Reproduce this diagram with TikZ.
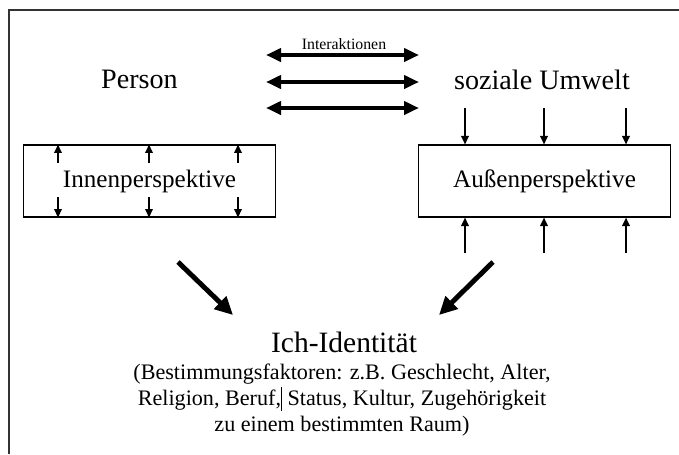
\documentclass[tikz,border=0pt]{standalone}
\usepackage{fontspec}
\setmainfont{Liberation Serif}
\usetikzlibrary{arrows.meta,positioning}

\tikzset{
	big/.style={font=\fontsize{16}{19}\selectfont, inner sep=0pt, anchor=base},
	persp/.style={draw, line width=0.6pt, minimum width=5.04cm, minimum height=1.44cm, font=\fontsize{14.3}{17}\selectfont},
	inter/.style={line width=2.3pt, {Triangle[length=3mm,width=2.6mm]}-{Triangle[length=3mm,width=2.6mm]}},
	heavy/.style={line width=2.8pt, -{Triangle[length=3.6mm,width=3.4mm]}},
	small/.style={line width=1.1pt, -{Triangle[length=1.7mm,width=1.5mm]}}
}

\begin{document}
\begin{tikzpicture}[x=0.02cm, y=-0.02cm]
	\useasboundingbox (0,0) rectangle (679,454);
	\draw [line width=0.6pt, black!80] (9,454) -- (9,10) -- (679,10);

	\node [big] (person) at (139.5, 88) {Person};
	\node [big] (umwelt) at (542, 89) {soziale Umwelt};
	\node [font=\fontsize{9}{11}\selectfont, inner sep=0pt, anchor=base] (interaktion) at (344, 49) {Interaktionen};

	\coordinate (il1) at (266, 55);
	\coordinate (ir1) at (419, 55);
	\coordinate (il2) at (266, 82);
	\coordinate (ir2) at (419, 82);
	\coordinate (il3) at (266, 108);
	\coordinate (ir3) at (419, 108);
	\draw [inter] (il1) to (ir1);
	\draw [inter] (il2) to (ir2);
	\draw [inter] (il3) to (ir3);

	\node [persp] (innen) at (149.5, 181) {Innenperspektive};
	\node [persp] (aussen) at (544.5, 181) {Außenperspektive};

	% Pfeile in der Innenperspektive
	\coordinate (iu1) at (58, 163);
	\coordinate (iu2) at (149, 163);
	\coordinate (iu3) at (238, 163);
	\coordinate (id1) at (58, 197);
	\coordinate (id2) at (149, 197);
	\coordinate (id3) at (238, 197);
	\draw [small] (iu1) to (iu1 |- innen.north);
	\draw [small] (iu2) to (iu2 |- innen.north);
	\draw [small] (iu3) to (iu3 |- innen.north);
	\draw [small] (id1) to (id1 |- innen.south);
	\draw [small] (id2) to (id2 |- innen.south);
	\draw [small] (id3) to (id3 |- innen.south);

	% Pfeile auf die Aussenperspektive
	\coordinate (ao1) at (465, 108);
	\coordinate (ao2) at (544, 108);
	\coordinate (ao3) at (626, 108);
	\coordinate (au1) at (465, 253);
	\coordinate (au2) at (544, 253);
	\coordinate (au3) at (626, 253);
	\draw [small] (ao1) to (ao1 |- aussen.north);
	\draw [small] (ao2) to (ao2 |- aussen.north);
	\draw [small] (ao3) to (ao3 |- aussen.north);
	\draw [small] (au1) to (au1 |- aussen.south);
	\draw [small] (au2) to (au2 |- aussen.south);
	\draw [small] (au3) to (au3 |- aussen.south);

	\coordinate (dl) at (178, 262);
	\coordinate (dlend) at (233, 315);
	\coordinate (dr) at (493, 262);
	\coordinate (drend) at (439, 315);
	\draw [heavy] (dl) to (dlend);
	\draw [heavy] (dr) to (drend);

	\node [big, font=\fontsize{16.8}{20}\selectfont] (ich) at (344, 352) {Ich-Identität};
	\node [font=\fontsize{12.6}{14.6}\selectfont, align=center, inner sep=0pt, anchor=base] (faktoren) at (342, 431)
		{(Bestimmungsfaktoren: z.B. Geschlecht, Alter,\\
		Religion, Beruf,\rule[-0.25em]{0.6pt}{1.1em} Status, Kultur, Zugehörigkeit\\
		zu einem bestimmten Raum)};
\end{tikzpicture}
\end{document}
